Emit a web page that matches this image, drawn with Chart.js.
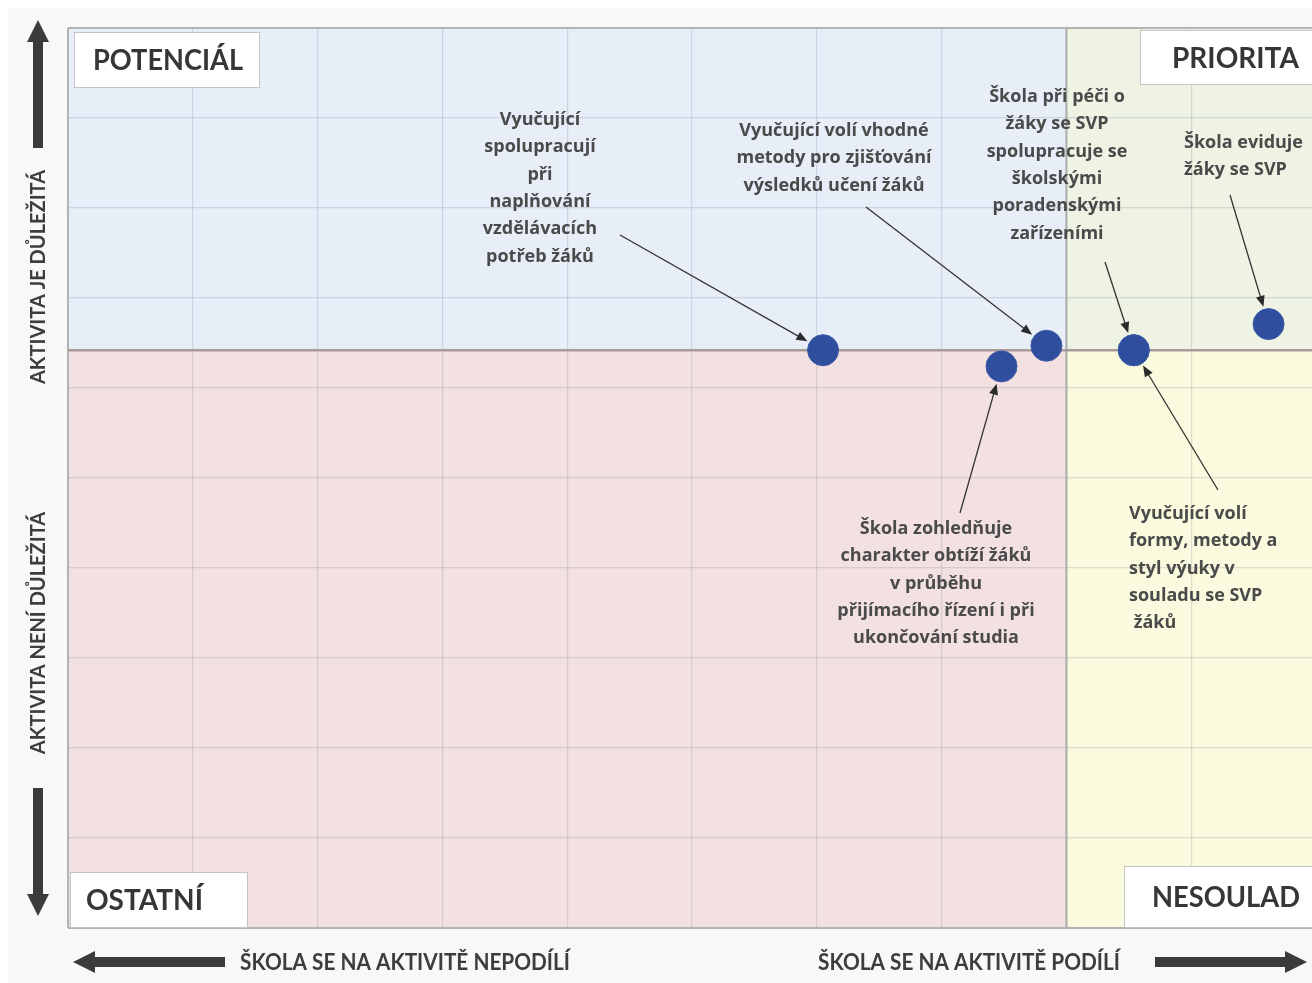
<!DOCTYPE html>
<html>
<head>
<meta charset="utf-8">
<title>Matice aktivit</title>
<script src="https://cdn.jsdelivr.net/npm/chart.js@4.4.1/dist/chart.umd.min.js"></script>
<style>
  html, body { margin: 0; padding: 0; background: #ffffff; overflow: hidden; }
  #wrap { width: 1312px; height: 983px; overflow: hidden; }
</style>
</head>
<body>
<div id="wrap"><canvas id="matrix" width="1320" height="983"></canvas></div>
<script>
// aktivity (popisky bodu, po radcich)
var activityLabels = [
  ["Vyučující", "spolupracují", "při", "naplňování", "vzdělávacích", "potřeb žáků"],
  ["Škola zohledňuje", "charakter obtíží žáků", "v průběhu", "přijímacího řízení i při", "ukončování studia"],
  ["Vyučující volí vhodné", "metody pro zjišťování", "výsledků učení žáků"],
  ["Škola při péči o", "žáky se SVP", "spolupracuje se", "školskými", "poradenskými", "zařízeními"],
  ["Vyučující volí", "formy, metody a", "styl výuky v", "souladu se SVP", " žáků"],
  ["Škola eviduje", "žáky se SVP"]
];
// podil skoly (x) a dulezitost (y)
var participation = [6.05, 7.48, 7.84, 8.54, 8.54, 9.62];
var importance = [6.42, 6.24, 6.47, 6.42, 6.42, 6.71];

var xSplit = 8;
var ySplit = 6.42;

var quadrantNames = ["POTENCIÁL", "PRIORITA", "OSTATNÍ", "NESOULAD"];
var axisNames = ["AKTIVITA JE DŮLEŽITÁ", "AKTIVITA NENÍ DŮLEŽITÁ", "ŠKOLA SE NA AKTIVITĚ NEPODÍLÍ", "ŠKOLA SE NA AKTIVITĚ PODÍLÍ"];

// kde stoji text popisku a odkud vychazi sipka (jen rozvrzeni)
var calloutLayout = [
  { x: 540, y: 120, align: "center", from: [620, 235] },
  { x: 936, y: 529, align: "center", from: [960, 513] },
  { x: 834, y: 131, align: "center", from: [866, 207] },
  { x: 1057, y: 97, align: "center", from: [1105, 262] },
  { x: 1129, y: 514, align: "left", from: [1218, 490] },
  { x: 1184, y: 143, align: "left", from: [1230, 195] }
];

var points = [];
for (var i = 0; i < participation.length; i++) {
  points.push({ x: participation[i], y: importance[i] });
}

function arrowLine(ctx, x1, y1, x2, y2) {
  var ang = Math.atan2(y2 - y1, x2 - x1);
  ctx.beginPath();
  ctx.moveTo(x1, y1);
  ctx.lineTo(x2 - 8 * Math.cos(ang), y2 - 8 * Math.sin(ang));
  ctx.stroke();
  ctx.beginPath();
  ctx.moveTo(x2, y2);
  ctx.lineTo(x2 - 11 * Math.cos(ang) + 4.5 * Math.sin(ang), y2 - 11 * Math.sin(ang) - 4.5 * Math.cos(ang));
  ctx.lineTo(x2 - 11 * Math.cos(ang) - 4.5 * Math.sin(ang), y2 - 11 * Math.sin(ang) + 4.5 * Math.cos(ang));
  ctx.closePath();
  ctx.fill();
}

function labelBox(ctx, text, x1, y1, x2, y2, tx, maxW) {
  ctx.fillStyle = "#ffffff";
  ctx.fillRect(x1, y1, x2 - x1, y2 - y1);
  ctx.strokeStyle = "#c4c4c4";
  ctx.lineWidth = 1;
  ctx.strokeRect(x1 + 0.5, y1 + 0.5, x2 - x1 - 1, y2 - y1 - 1);
  ctx.fillStyle = "#363636";
  ctx.font = "bold 28px Lato";
  ctx.textAlign = "left";
  ctx.textBaseline = "middle";
  ctx.fillText(text, tx, (y1 + y2) / 2 + 1, maxW);
}

function thickArrow(ctx, x1, y1, x2, y2) {
  // tlusta sipka ve smeru (x1,y1) -> (x2,y2)
  var ang = Math.atan2(y2 - y1, x2 - x1);
  var len = Math.sqrt((x2 - x1) * (x2 - x1) + (y2 - y1) * (y2 - y1));
  ctx.save();
  ctx.translate(x1, y1);
  ctx.rotate(ang);
  ctx.fillStyle = "#3b3b3b";
  ctx.fillRect(0, -5, len - 20, 10);
  ctx.beginPath();
  ctx.moveTo(len, 0);
  ctx.lineTo(len - 22, -11);
  ctx.lineTo(len - 22, 11);
  ctx.closePath();
  ctx.fill();
  ctx.restore();
}

var quadrantPlugin = {
  id: "quadrants",
  beforeDraw: function (chart) {
    var ctx = chart.ctx;
    var a = chart.chartArea;
    var xs = chart.scales.x.getPixelForValue(xSplit);
    var ys = chart.scales.y.getPixelForValue(ySplit);
    ctx.save();
    ctx.fillStyle = "#ffffff";
    ctx.fillRect(0, 0, chart.width, chart.height);
    ctx.fillStyle = "#f8f8f8";
    ctx.fillRect(8, 8, chart.width - 8, chart.height - 8);
    ctx.fillStyle = "#e7eef8";
    ctx.fillRect(a.left, a.top, xs - a.left, ys - a.top);
    ctx.fillStyle = "#eef3e4";
    ctx.fillRect(xs, a.top, a.right - xs, ys - a.top);
    ctx.fillStyle = "#f3e1e1";
    ctx.fillRect(a.left, ys, xs - a.left, a.bottom - ys);
    ctx.fillStyle = "#fafadf";
    ctx.fillRect(xs, ys, a.right - xs, a.bottom - ys);
    ctx.restore();
  },
  beforeDatasetsDraw: function (chart) {
    var ctx = chart.ctx;
    var a = chart.chartArea;
    var xs = chart.scales.x.getPixelForValue(xSplit);
    var ys = chart.scales.y.getPixelForValue(ySplit);
    ctx.save();
    ctx.lineWidth = 2;
    ctx.strokeStyle = "#b3b3b3";
    ctx.beginPath();
    ctx.moveTo(a.left, a.top);
    ctx.lineTo(a.right, a.top);
    ctx.moveTo(a.left, a.top);
    ctx.lineTo(a.left, a.bottom);
    ctx.moveTo(a.left, a.bottom);
    ctx.lineTo(a.right, a.bottom);
    ctx.stroke();
    ctx.strokeStyle = "#a8b0a8";
    ctx.beginPath();
    ctx.moveTo(xs, a.top);
    ctx.lineTo(xs, a.bottom);
    ctx.stroke();
    ctx.strokeStyle = "#a99a9c";
    ctx.lineWidth = 2.5;
    ctx.beginPath();
    ctx.moveTo(a.left, ys);
    ctx.lineTo(a.right, ys);
    ctx.stroke();

    // popisky aktivit a sipky
    ctx.font = "bold 18px 'Open Sans'";
    ctx.textBaseline = "middle";
    ctx.strokeStyle = "#333333";
    ctx.lineWidth = 1.3;
    for (var i = 0; i < activityLabels.length; i++) {
      var lay = calloutLayout[i];
      var lines = activityLabels[i];
      ctx.textAlign = lay.align;
      ctx.fillStyle = "#4a4a4a";
      for (var j = 0; j < lines.length; j++) {
        ctx.fillText(lines[j], lay.x, lay.y + j * 27.3);
      }
      var px = chart.scales.x.getPixelForValue(participation[i]);
      var py = chart.scales.y.getPixelForValue(importance[i]);
      var dx = lay.from[0] - px;
      var dy = lay.from[1] - py;
      var d = Math.sqrt(dx * dx + dy * dy);
      var ex = px + dx / d * 18;
      var ey = py + dy / d * 18;
      ctx.fillStyle = "#2b2b2b";
      arrowLine(ctx, lay.from[0], lay.from[1], ex, ey);
    }
    ctx.restore();
  },
  afterDraw: function (chart) {
    var ctx = chart.ctx;
    ctx.save();
    labelBox(ctx, quadrantNames[0], 74, 32, 260, 88, 93, 150);
    labelBox(ctx, quadrantNames[1], 1140, 30, 1330, 85, 1172, 128);
    labelBox(ctx, quadrantNames[2], 70, 872, 248, 928, 86, 117);
    labelBox(ctx, quadrantNames[3], 1124, 866, 1330, 928, 1152, 148);

    ctx.fillStyle = "#3d3d3d";
    ctx.font = "bold 20px Lato";
    ctx.textBaseline = "middle";
    ctx.textAlign = "center";
    ctx.save();
    ctx.translate(39, 277);
    ctx.rotate(-Math.PI / 2);
    ctx.fillText(axisNames[0], 0, 0, 225);
    ctx.restore();
    ctx.save();
    ctx.translate(39, 633);
    ctx.rotate(-Math.PI / 2);
    ctx.fillText(axisNames[1], 0, 0, 255);
    ctx.restore();

    ctx.font = "bold 22px Lato";
    ctx.textAlign = "left";
    ctx.fillText(axisNames[2], 240, 963, 330);
    ctx.fillText(axisNames[3], 818, 963, 302);

    thickArrow(ctx, 38, 148, 38, 20);
    thickArrow(ctx, 38, 788, 38, 916);
    thickArrow(ctx, 225, 962, 73, 962);
    thickArrow(ctx, 1155, 962, 1307, 962);
    ctx.restore();
  }
};

document.addEventListener("DOMContentLoaded", function () {
  var ctx = document.getElementById("matrix").getContext("2d");
  var gridStyle = {
    color: "rgba(120, 120, 145, 0.22)",
    lineWidth: 1.2,
    drawTicks: false
  };
  var matrixChart = new Chart(ctx, {
    type: "scatter",
    data: {
      datasets: [{
        data: points,
        backgroundColor: "#2f4e9d",
        borderColor: "#3b5ba6",
        borderWidth: 1,
        pointRadius: 15.5,
        pointHoverRadius: 15.5
      }]
    },
    options: {
      responsive: false,
      animation: false,
      layout: { autoPadding: false, padding: { left: 68, top: 28, right: 4, bottom: 55 } },
      plugins: {
        legend: { display: false },
        tooltip: { enabled: false }
      },
      scales: {
        x: {
          type: "linear",
          min: 0,
          max: 10,
          ticks: { display: false, stepSize: 1 },
          grid: gridStyle,
          border: { display: false },
          afterFit: function (s) { s.height = 0; }
        },
        y: {
          type: "linear",
          min: 0,
          max: 10,
          ticks: { display: false, stepSize: 1 },
          grid: gridStyle,
          border: { display: false },
          afterFit: function (s) { s.width = 0; }
        }
      }
    },
    plugins: [quadrantPlugin]
  });
});
</script>
</body>
</html>
